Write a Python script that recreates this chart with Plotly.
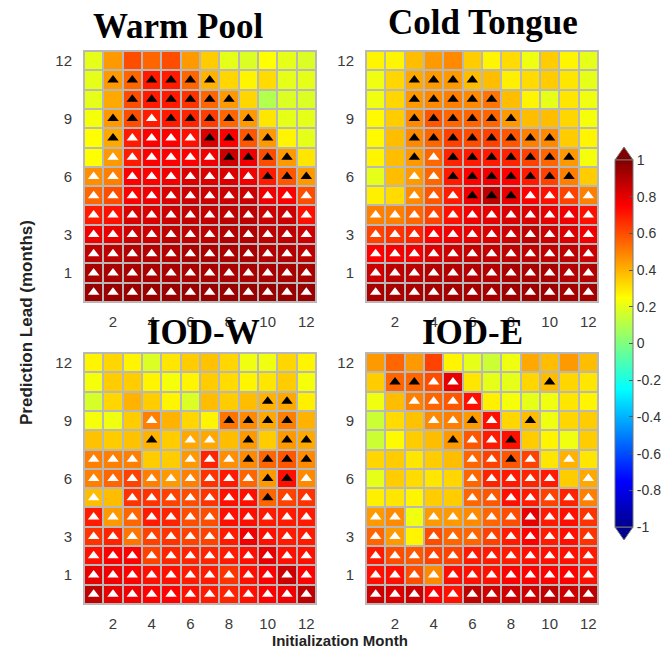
import plotly.graph_objects as go

W, H = 666, 649

MONTHS = list(range(1, 13))
LEADS_TOP_DOWN = list(range(12, -1, -1))   # row order (lead 12 at top)
X_TICKS = [2, 4, 6, 8, 10, 12]
Y_TICKS = [1, 3, 6, 9, 12]
CB_TICKS = [-1, -0.8, -0.6, -0.4, -0.2, 0, 0.2, 0.4, 0.6, 0.8, 1]
CB_TEXT = ["-1", "-0.8", "-0.6", "-0.4", "-0.2", "0", "0.2", "0.4", "0.6", "0.8", "1"]

TITLES = ["Warm Pool", "Cold Tongue", "IOD-W", "IOD-E"]

# correlation values, rows = lead 12 ... lead 0, columns = init month 1..12
WP_VALUES = [
    [0.20, 0.45, 0.60, 0.55, 0.60, 0.45, 0.35, 0.20, 0.18, 0.25, 0.20, 0.18],
    [0.20, 0.45, 0.55, 0.70, 0.70, 0.55, 0.40, 0.33, 0.27, 0.32, 0.20, 0.20],
    [0.20, 0.42, 0.60, 0.70, 0.70, 0.65, 0.55, 0.45, 0.33, 0.10, 0.18, 0.18],
    [0.23, 0.45, 0.60, 0.70, 0.70, 0.68, 0.63, 0.55, 0.45, 0.30, 0.20, 0.20],
    [0.25, 0.42, 0.70, 0.75, 0.75, 0.72, 0.82, 0.75, 0.58, 0.45, 0.27, 0.20],
    [0.25, 0.45, 0.70, 0.75, 0.75, 0.75, 0.78, 0.85, 0.78, 0.60, 0.45, 0.30],
    [0.47, 0.50, 0.75, 0.75, 0.78, 0.82, 0.82, 0.82, 0.78, 0.70, 0.58, 0.45],
    [0.55, 0.60, 0.75, 0.78, 0.82, 0.85, 0.85, 0.85, 0.85, 0.78, 0.75, 0.60],
    [0.70, 0.72, 0.82, 0.82, 0.85, 0.87, 0.87, 0.88, 0.88, 0.85, 0.85, 0.72],
    [0.78, 0.80, 0.85, 0.85, 0.88, 0.88, 0.88, 0.90, 0.90, 0.88, 0.88, 0.85],
    [0.88, 0.88, 0.90, 0.90, 0.90, 0.92, 0.92, 0.92, 0.92, 0.90, 0.90, 0.88],
    [0.92, 0.92, 0.92, 0.92, 0.92, 0.92, 0.92, 0.92, 0.92, 0.92, 0.92, 0.92],
    [0.95, 0.95, 0.95, 0.95, 0.95, 0.95, 0.95, 0.95, 0.95, 0.95, 0.95, 0.95],
]
WP_SIG = [
    "............",
    ".bbbbbb.....",
    "..bbbbbb....",
    ".bbwbbbbb...",
    ".bwwwwbbbb..",
    ".wwwwwwbbbb.",
    "wwwwwwwwwbbb",
    "wwwwwwwwwwww",
    "wwwwwwwwwwww",
    "wwwwwwwwwwww",
    "wwwwwwwwwwww",
    "wwwwwwwwwwww",
    "wwwwwwwwwwww",
]

CT_VALUES = [
    [0.27, 0.27, 0.38, 0.45, 0.48, 0.35, 0.27, 0.32, 0.22, 0.35, 0.27, 0.20],
    [0.22, 0.33, 0.42, 0.45, 0.45, 0.38, 0.38, 0.28, 0.32, 0.35, 0.30, 0.20],
    [0.22, 0.33, 0.45, 0.48, 0.50, 0.48, 0.52, 0.38, 0.27, 0.20, 0.30, 0.22],
    [0.26, 0.35, 0.48, 0.58, 0.55, 0.55, 0.55, 0.45, 0.38, 0.38, 0.33, 0.23],
    [0.26, 0.38, 0.48, 0.55, 0.62, 0.60, 0.62, 0.58, 0.50, 0.48, 0.35, 0.27],
    [0.27, 0.38, 0.45, 0.55, 0.68, 0.70, 0.70, 0.68, 0.62, 0.55, 0.45, 0.23],
    [0.20, 0.38, 0.45, 0.55, 0.70, 0.75, 0.78, 0.75, 0.70, 0.62, 0.50, 0.35],
    [0.28, 0.32, 0.48, 0.58, 0.70, 0.78, 0.88, 0.80, 0.75, 0.72, 0.62, 0.50],
    [0.50, 0.50, 0.55, 0.62, 0.72, 0.78, 0.80, 0.82, 0.82, 0.80, 0.78, 0.72],
    [0.62, 0.65, 0.68, 0.75, 0.78, 0.80, 0.82, 0.85, 0.88, 0.85, 0.82, 0.78],
    [0.75, 0.77, 0.78, 0.82, 0.85, 0.87, 0.87, 0.88, 0.88, 0.88, 0.88, 0.85],
    [0.85, 0.88, 0.88, 0.90, 0.90, 0.90, 0.90, 0.92, 0.92, 0.92, 0.90, 0.90],
    [0.92, 0.92, 0.92, 0.93, 0.93, 0.93, 0.93, 0.94, 0.94, 0.94, 0.93, 0.93],
]
CT_SIG = [
    "............",
    "..bbbb......",
    "..bbbbb.....",
    "..bbbbbb....",
    "..bbbbbbbb..",
    "..bwbbbbbbb.",
    "..wwbbbbbbb.",
    "..wwwbbbwwww",
    "wwwwwwwwwwww",
    "wwwwwwwwwwww",
    "wwwwwwwwwwww",
    "wwwwwwwwwwww",
    "wwwwwwwwwwww",
]

IW_VALUES = [
    [0.27, 0.33, 0.27, 0.18, 0.30, 0.35, 0.37, 0.33, 0.22, 0.22, 0.33, 0.27],
    [0.23, 0.35, 0.35, 0.27, 0.23, 0.27, 0.35, 0.32, 0.27, 0.30, 0.35, 0.23],
    [0.17, 0.33, 0.40, 0.35, 0.27, 0.18, 0.38, 0.35, 0.38, 0.40, 0.42, 0.28],
    [0.23, 0.22, 0.35, 0.50, 0.40, 0.33, 0.27, 0.52, 0.48, 0.42, 0.50, 0.40],
    [0.37, 0.35, 0.37, 0.40, 0.35, 0.42, 0.42, 0.38, 0.45, 0.35, 0.45, 0.42],
    [0.50, 0.50, 0.50, 0.35, 0.35, 0.45, 0.68, 0.47, 0.48, 0.55, 0.58, 0.48],
    [0.50, 0.55, 0.62, 0.50, 0.45, 0.50, 0.65, 0.70, 0.55, 0.45, 0.72, 0.48],
    [0.38, 0.38, 0.65, 0.65, 0.62, 0.60, 0.65, 0.72, 0.72, 0.55, 0.62, 0.65],
    [0.70, 0.45, 0.55, 0.70, 0.68, 0.60, 0.60, 0.72, 0.72, 0.70, 0.70, 0.70],
    [0.65, 0.68, 0.52, 0.62, 0.65, 0.62, 0.62, 0.70, 0.78, 0.72, 0.70, 0.70],
    [0.72, 0.75, 0.75, 0.62, 0.68, 0.68, 0.68, 0.70, 0.72, 0.80, 0.72, 0.72],
    [0.80, 0.78, 0.75, 0.72, 0.72, 0.70, 0.70, 0.65, 0.72, 0.75, 0.85, 0.75],
    [0.88, 0.80, 0.78, 0.75, 0.75, 0.72, 0.70, 0.68, 0.72, 0.75, 0.78, 0.88],
]
IW_SIG = [
    "............",
    "............",
    ".........bb.",
    "...w...bbbb.",
    "...b.ww.b.bb",
    "www..wwwbbbb",
    "wwwwwwwwwbbw",
    "w.wwwwwwwbww",
    "wwwwwwwwwwww",
    "wwwwwwwwwwww",
    "wwwwwwwwwwww",
    "wwwwwwwwwwww",
    "wwwwwwwwwwww",
]

IE_VALUES = [
    [0.45, 0.55, 0.45, 0.62, 0.27, 0.20, 0.15, 0.22, 0.42, 0.38, 0.45, 0.38],
    [0.35, 0.55, 0.55, 0.60, 0.80, 0.30, 0.20, 0.20, 0.33, 0.38, 0.33, 0.30],
    [0.22, 0.38, 0.50, 0.55, 0.58, 0.72, 0.28, 0.23, 0.20, 0.22, 0.30, 0.27],
    [0.15, 0.32, 0.37, 0.48, 0.50, 0.45, 0.72, 0.33, 0.38, 0.22, 0.33, 0.35],
    [0.15, 0.26, 0.35, 0.38, 0.45, 0.58, 0.70, 0.72, 0.35, 0.27, 0.22, 0.35],
    [0.33, 0.35, 0.30, 0.35, 0.38, 0.55, 0.62, 0.58, 0.62, 0.30, 0.40, 0.30],
    [0.20, 0.35, 0.32, 0.30, 0.33, 0.55, 0.68, 0.70, 0.68, 0.70, 0.35, 0.42],
    [0.28, 0.30, 0.27, 0.35, 0.35, 0.55, 0.58, 0.72, 0.70, 0.62, 0.68, 0.50],
    [0.45, 0.48, 0.22, 0.45, 0.45, 0.48, 0.55, 0.60, 0.80, 0.70, 0.72, 0.65],
    [0.55, 0.45, 0.27, 0.60, 0.55, 0.55, 0.62, 0.70, 0.75, 0.70, 0.72, 0.65],
    [0.70, 0.60, 0.58, 0.62, 0.62, 0.70, 0.70, 0.70, 0.72, 0.72, 0.72, 0.70],
    [0.72, 0.72, 0.60, 0.48, 0.72, 0.72, 0.72, 0.75, 0.75, 0.75, 0.75, 0.72],
    [0.85, 0.82, 0.85, 0.75, 0.72, 0.88, 0.85, 0.85, 0.85, 0.88, 0.85, 0.88],
]
IE_SIG = [
    "............",
    ".bbww....b..",
    "..wwww......",
    "...wwbw.b...",
    "....bwwb....",
    ".....wwbw.w.",
    ".....wwwww.w",
    ".....wwwwwww",
    "ww.wwwwwwwww",
    "ww.wwwwwwwww",
    "wwwwwwwwwwww",
    "wwwwwwwwwwww",
    "wwwwwwwwwwww",
]

PANELS = [
    (WP_VALUES, WP_SIG),
    (CT_VALUES, CT_SIG),
    (IW_VALUES, IW_SIG),
    (IE_VALUES, IE_SIG),
]

# MATLAB-style jet
JET = [
    [0.0, "rgb(0,0,143)"],
    [0.125, "rgb(0,0,255)"],
    [0.375, "rgb(0,255,255)"],
    [0.625, "rgb(255,255,0)"],
    [0.875, "rgb(255,0,0)"],
    [1.0, "rgb(128,0,0)"],
]

# panel boxes in pixels: (left, right, top, bottom)
BOXES = [
    (84, 316, 51, 302),
    (366, 598, 51, 302),
    (84, 316, 353, 604),
    (366, 598, 353, 604),
]


def px(x):
    return x / W


def py(y):
    return 1 - y / H


fig = go.Figure()
layout = {}
tick_font = dict(family="Liberation Sans, Arial, sans-serif", size=15, color="#3a3a3a")

for i, ((vals, sig), (l, r, t, b)) in enumerate(zip(PANELS, BOXES)):
    n = i + 1
    xa = "x" if n == 1 else f"x{n}"
    ya = "y" if n == 1 else f"y{n}"
    z = list(reversed(vals))
    leads = list(reversed(LEADS_TOP_DOWN))
    hm = dict(
        z=z, x=MONTHS, y=leads, xaxis=xa, yaxis=ya,
        colorscale=JET, zmin=-1, zmax=1, xgap=2, ygap=2,
        showscale=(n == 1), hoverinfo="skip",
    )
    if n == 1:
        hm["colorbar"] = dict(
            x=px(615), xanchor="left", xpad=0,
            y=py((160 + 527) / 2), yanchor="middle", ypad=0,
            len=367, lenmode="pixels", thickness=18, thicknessmode="pixels",
            outlinewidth=1, outlinecolor="#777",
            tickvals=CB_TICKS, ticktext=CB_TEXT,
            ticks="inside", ticklen=4, tickcolor="#555",
            tickfont=dict(family="Liberation Sans, Arial, sans-serif", size=14, color="#333"),
        )
    fig.add_trace(go.Heatmap(**hm))

    wx, wy, bx, by = [], [], [], []
    for row, lead in zip(sig, LEADS_TOP_DOWN):
        for ch, m in zip(row, MONTHS):
            if ch == "w":
                wx.append(m); wy.append(lead)
            elif ch == "b":
                bx.append(m); by.append(lead)
    fig.add_trace(go.Scatter(x=wx, y=wy, xaxis=xa, yaxis=ya, mode="markers",
                             marker=dict(symbol="triangle-up", size=10, color="white",
                                         line=dict(width=0)),
                             showlegend=False, hoverinfo="skip"))
    fig.add_trace(go.Scatter(x=bx, y=by, xaxis=xa, yaxis=ya, mode="markers",
                             marker=dict(symbol="triangle-up", size=10, color="black",
                                         line=dict(width=0)),
                             showlegend=False, hoverinfo="skip"))

    xkey = "xaxis" if n == 1 else f"xaxis{n}"
    ykey = "yaxis" if n == 1 else f"yaxis{n}"
    layout[xkey] = dict(
        domain=[px(l), px(r)], anchor=ya, range=[0.5, 12.5],
        tickvals=X_TICKS, ticks="outside", ticklen=6, tickcolor="rgba(0,0,0,0)",
        tickfont=tick_font, showgrid=False, zeroline=False,
        showline=True, mirror=True, linecolor="#b8b8b8", linewidth=1,
    )
    layout[ykey] = dict(
        domain=[py(b), py(t)], anchor=xa, range=[-0.5, 12.5],
        tickvals=Y_TICKS, ticks="outside", ticklen=8, tickcolor="rgba(0,0,0,0)",
        tickfont=tick_font, showgrid=False, zeroline=False,
        showline=True, mirror=True, linecolor="#b8b8b8", linewidth=1,
    )

title_pos = [(178, 27), (483, 23), (203, 332), (472, 332)]
annotations = []
for text, (x, y) in zip(TITLES, title_pos):
    annotations.append(dict(
        text=f"<b>{text}</b>", x=px(x), y=py(y), xref="paper", yref="paper",
        xanchor="center", yanchor="middle", showarrow=False,
        font=dict(family="Liberation Serif, Times New Roman, serif", size=35, color="black"),
    ))
annotations.append(dict(
    text="<b>Prediction Lead (months)</b>", x=px(27), y=py(323), xref="paper", yref="paper",
    xanchor="center", yanchor="middle", showarrow=False, textangle=-90,
    font=dict(family="Liberation Sans, Arial, sans-serif", size=17, color="#222"),
))
annotations.append(dict(
    text="<b>Initialization Month</b>", x=px(340), y=py(640), xref="paper", yref="paper",
    xanchor="center", yanchor="middle", showarrow=False,
    font=dict(family="Liberation Sans, Arial, sans-serif", size=15, color="#222"),
))

shapes = [
    dict(type="path", xref="paper", yref="paper",
         path=f"M {px(615)},{py(160)} L {px(633)},{py(160)} L {px(624)},{py(147)} Z",
         fillcolor="rgb(128,0,0)", line=dict(color="#777", width=1)),
    dict(type="path", xref="paper", yref="paper",
         path=f"M {px(615)},{py(527)} L {px(633)},{py(527)} L {px(624)},{py(540)} Z",
         fillcolor="rgb(0,0,143)", line=dict(color="#777", width=1)),
]

fig.update_layout(
    width=W, height=H, margin=dict(l=0, r=0, t=0, b=0, autoexpand=False),
    paper_bgcolor="white", plot_bgcolor="#b8b8b8",
    showlegend=False, annotations=annotations, shapes=shapes,
    **layout,
)

fig.write_html(
    "out.html",
    config={"displayModeBar": False, "staticPlot": True},
    post_script="document.body.style.margin='0';document.body.style.overflow='hidden';",
)
